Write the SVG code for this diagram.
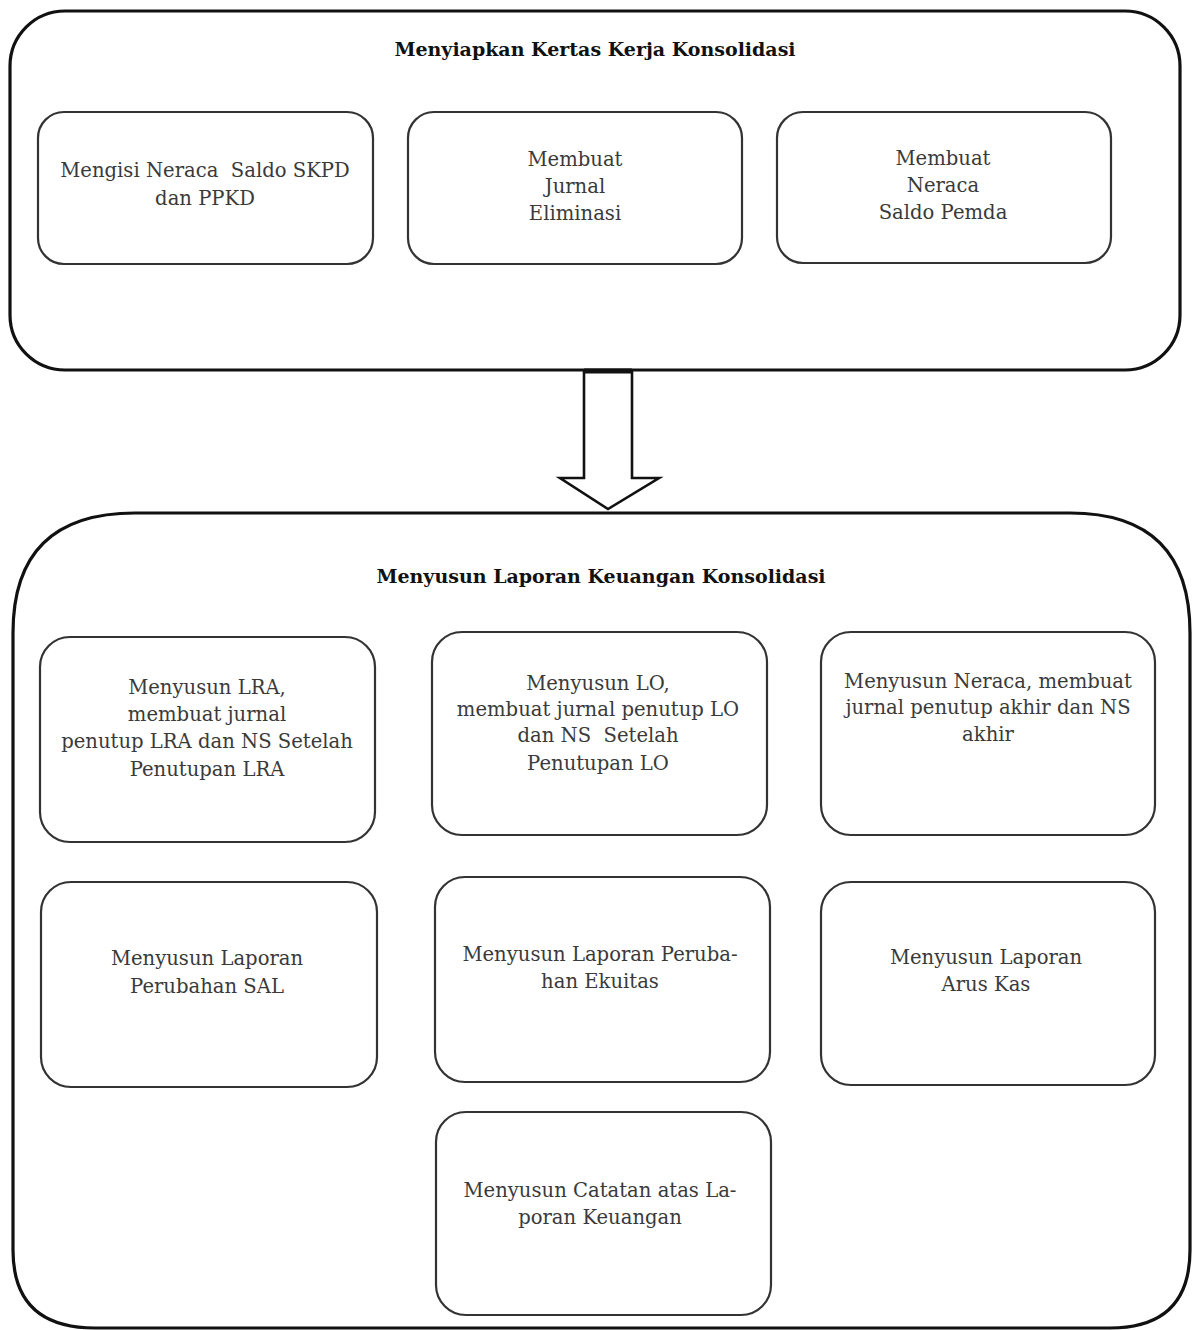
<svg xmlns="http://www.w3.org/2000/svg" width="1194" height="1330" viewBox="0 0 1194 1330">
<style>
.outer{fill:none;stroke:#111;stroke-width:3.2}
.box{fill:none;stroke:#333;stroke-width:2.2}
.t{font-family:"DejaVu Serif","Liberation Serif",serif;font-size:19.6px;fill:#3a3a3a;text-anchor:middle;white-space:pre}
.h{font-family:"DejaVu Serif","Liberation Serif",serif;font-size:19px;font-weight:bold;fill:#111;text-anchor:middle}
</style>
<rect width="1194" height="1330" fill="#fff"/>
<g id="group-top">
<rect class="outer" x="10" y="11" width="1170" height="359" rx="55" ry="55"/>
<text class="h" x="595" y="56">Menyiapkan Kertas Kerja Konsolidasi</text>
</g>
<g id="node-neraca-saldo-skpd">
<rect class="box" x="38" y="112" width="335" height="152" rx="26"/>
<text class="t" x="205" y="177">Mengisi Neraca  Saldo SKPD</text>
<text class="t" x="205" y="205">dan PPKD</text>
</g>
<g id="node-jurnal-eliminasi">
<rect class="box" x="408" y="112" width="334" height="152" rx="26"/>
<text class="t" x="575" y="166">Membuat</text>
<text class="t" x="575" y="193">Jurnal</text>
<text class="t" x="575" y="220">Eliminasi</text>
</g>
<g id="node-neraca-saldo-pemda">
<rect class="box" x="777" y="112" width="334" height="151" rx="26"/>
<text class="t" x="943" y="165">Membuat</text>
<text class="t" x="943" y="192">Neraca</text>
<text class="t" x="943" y="219">Saldo Pemda</text>
</g>
<g id="connectors">
<path d="M584,370 V478 H560 L608,509 L659,478 H632 V370" fill="#fff" stroke="#111" stroke-width="2.6" stroke-linejoin="miter"/>
<line x1="584" y1="371" x2="632" y2="371" stroke="#111" stroke-width="5"/>
</g>
<g id="group-bottom">
<path class="outer" d="M135,513 H1070 Q1190,513 1190,633 V1250 Q1190,1328 1110,1328 H95 Q13,1328 13,1250 V633 Q13,513 135,513 Z"/>
<text class="h" x="601" y="583">Menyusun Laporan Keuangan Konsolidasi</text>
</g>
<g id="node-lra">
<rect class="box" x="40" y="637" width="335" height="205" rx="30"/>
<text class="t" x="207" y="694">Menyusun LRA,</text>
<text class="t" x="207" y="721">membuat jurnal</text>
<text class="t" x="207" y="748">penutup LRA dan NS Setelah</text>
<text class="t" x="207" y="776">Penutupan LRA</text>
</g>
<g id="node-lo">
<rect class="box" x="432" y="632" width="335" height="203" rx="30"/>
<text class="t" x="598" y="690">Menyusun LO,</text>
<text class="t" x="598" y="716">membuat jurnal penutup LO</text>
<text class="t" x="598" y="742">dan NS  Setelah</text>
<text class="t" x="598" y="770">Penutupan LO</text>
</g>
<g id="node-neraca">
<rect class="box" x="821" y="632" width="334" height="203" rx="30"/>
<text class="t" x="988" y="688">Menyusun Neraca, membuat</text>
<text class="t" x="988" y="714">jurnal penutup akhir dan NS</text>
<text class="t" x="988" y="741">akhir</text>
</g>
<g id="node-sal">
<rect class="box" x="41" y="882" width="336" height="205" rx="30"/>
<text class="t" x="207" y="965">Menyusun Laporan</text>
<text class="t" x="207" y="993">Perubahan SAL</text>
</g>
<g id="node-ekuitas">
<rect class="box" x="435" y="877" width="335" height="205" rx="30"/>
<text class="t" x="600" y="961">Menyusun Laporan Peruba-</text>
<text class="t" x="600" y="988">han Ekuitas</text>
</g>
<g id="node-arus-kas">
<rect class="box" x="821" y="882" width="334" height="203" rx="30"/>
<text class="t" x="986" y="964">Menyusun Laporan</text>
<text class="t" x="986" y="991">Arus Kas</text>
</g>
<g id="node-calk">
<rect class="box" x="436" y="1112" width="335" height="203" rx="30"/>
<text class="t" x="600" y="1197">Menyusun Catatan atas La-</text>
<text class="t" x="600" y="1224">poran Keuangan</text>
</g>
</svg>
